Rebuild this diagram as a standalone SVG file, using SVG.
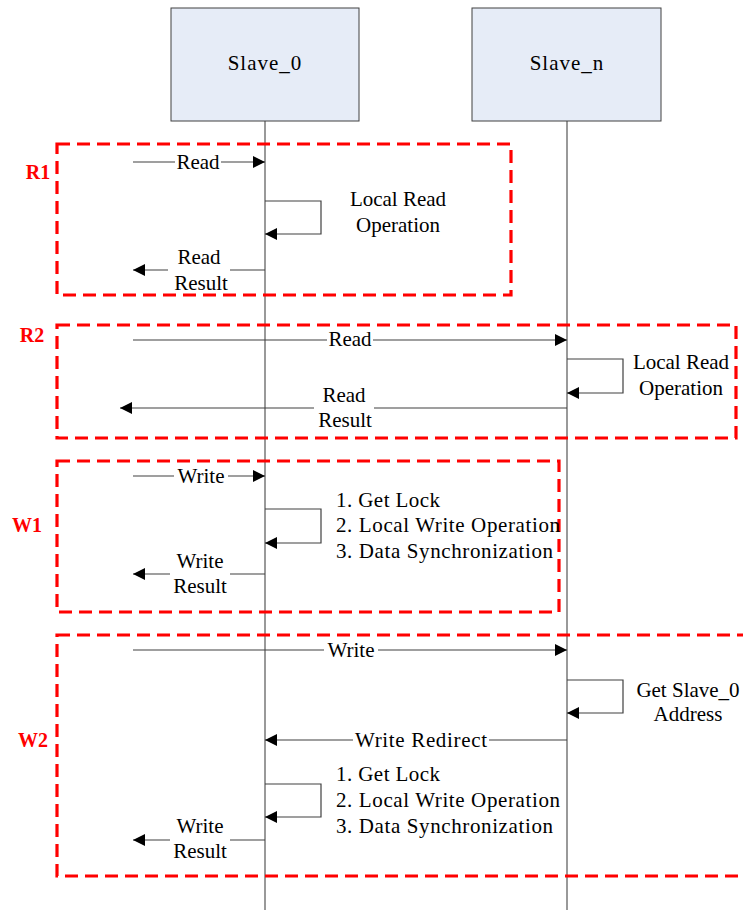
<svg xmlns="http://www.w3.org/2000/svg" width="743" height="910" viewBox="0 0 743 910">
<defs>
<marker id="ah" markerUnits="userSpaceOnUse" markerWidth="13" markerHeight="12" refX="12" refY="6" orient="auto">
<path d="M0,0 L12,6 L0,12 z" fill="#000"/>
</marker>
<style>
.box{fill:#e6ecf7;stroke:#404040;stroke-width:1}
.life{stroke:#555;stroke-width:1.2;fill:none}
.frame{fill:none;stroke:#ff0000;stroke-width:3.2;stroke-dasharray:13,7}
.msg{stroke:#404040;stroke-width:1.2;fill:none;marker-end:url(#ah)}
text{font-family:"Liberation Serif","DejaVu Serif",serif}
.t{font-size:21px;fill:#000}
.c{text-anchor:middle}
.hd{font-size:21px;letter-spacing:1px}
.lab{font-size:20px;font-weight:bold;fill:#ff0000;text-anchor:middle}
.bg{fill:#fff}
</style>
</defs>
<g id="Slave_0">
<line class="life" x1="265" y1="121" x2="265" y2="910"/>
<rect class="box" x="171" y="8" width="188" height="113"/>
<text class="t c hd" x="265" y="70">Slave_0</text>
</g>
<g id="Slave_n">
<line class="life" x1="567" y1="121" x2="567" y2="910"/>
<rect class="box" x="472" y="8" width="189" height="113"/>
<text class="t c hd" x="567" y="70">Slave_n</text>
</g>
<g id="R1">
<rect class="frame" x="57" y="144" width="454" height="151"/>
<text class="lab" x="38" y="179">R1</text>
</g>
<g id="R2">
<rect class="frame" x="57" y="325" width="679" height="113"/>
<text class="lab" x="32" y="342">R2</text>
</g>
<g id="W1">
<rect class="frame" x="57" y="461" width="502" height="151"/>
<text class="lab" x="27" y="532">W1</text>
</g>
<g id="W2">
<rect class="frame" x="57" y="635" width="700" height="241"/>
<text class="lab" x="33" y="747">W2</text>
</g>
<g id="connectors">
<line class="msg" x1="133" y1="162" x2="265" y2="162"/>
<path class="msg" d="M265,201 H321 V234 H265"/>
<line class="msg" x1="265" y1="270" x2="133" y2="270"/>
<line class="msg" x1="133" y1="340" x2="567" y2="340"/>
<path class="msg" d="M567,359 H623 V393 H567"/>
<line class="msg" x1="567" y1="408" x2="120" y2="408"/>
<line class="msg" x1="133" y1="476" x2="265" y2="476"/>
<path class="msg" d="M265,509 H321 V543 H265"/>
<line class="msg" x1="265" y1="574" x2="133" y2="574"/>
<line class="msg" x1="133" y1="650" x2="567" y2="650"/>
<path class="msg" d="M567,680 H623 V713 H567"/>
<line class="msg" x1="567" y1="740" x2="265" y2="740"/>
<path class="msg" d="M265,784 H321 V817 H265"/>
<line class="msg" x1="265" y1="840" x2="133" y2="840"/>
</g>
<g id="labels">
<rect class="bg" x="175" y="154" width="46" height="16"/>
<text class="t c" x="198" y="169">Read</text>
<text class="t c" x="398" y="206">Local Read</text>
<text class="t c" x="398" y="232">Operation</text>
<rect class="bg" x="168" y="262" width="62" height="14"/>
<text class="t c" x="199" y="264">Read</text>
<text class="t c" x="201" y="290">Result</text>
<rect class="bg" x="327" y="332" width="46" height="16"/>
<text class="t c" x="350" y="346">Read</text>
<text class="t c" x="681" y="369">Local Read</text>
<text class="t c" x="681" y="395">Operation</text>
<rect class="bg" x="314" y="400" width="60" height="14"/>
<text class="t c" x="344" y="402">Read</text>
<text class="t c" x="345" y="427">Result</text>
<rect class="bg" x="174" y="467" width="54" height="16"/>
<text class="t c" x="201" y="483">Write</text>
<text class="t" x="336" y="507" textLength="104">1. Get Lock</text>
<text class="t" x="336" y="532" textLength="224">2. Local Write Operation</text>
<text class="t" x="336" y="558" textLength="217">3. Data Synchronization</text>
<rect class="bg" x="170" y="566" width="60" height="14"/>
<text class="t c" x="200" y="568">Write</text>
<text class="t c" x="200" y="593">Result</text>
<rect class="bg" x="324" y="641" width="54" height="16"/>
<text class="t c" x="351" y="657">Write</text>
<text class="t c" x="688" y="697">Get Slave_0</text>
<text class="t c" x="688" y="721">Address</text>
<rect class="bg" x="353" y="731" width="136" height="17"/>
<text class="t c" x="421" y="747" textLength="132">Write Redirect</text>
<text class="t" x="336" y="781" textLength="104">1. Get Lock</text>
<text class="t" x="336" y="807" textLength="224">2. Local Write Operation</text>
<text class="t" x="336" y="833" textLength="217">3. Data Synchronization</text>
<rect class="bg" x="170" y="832" width="60" height="14"/>
<text class="t c" x="200" y="833">Write</text>
<text class="t c" x="200" y="858">Result</text>
</g>
</svg>
